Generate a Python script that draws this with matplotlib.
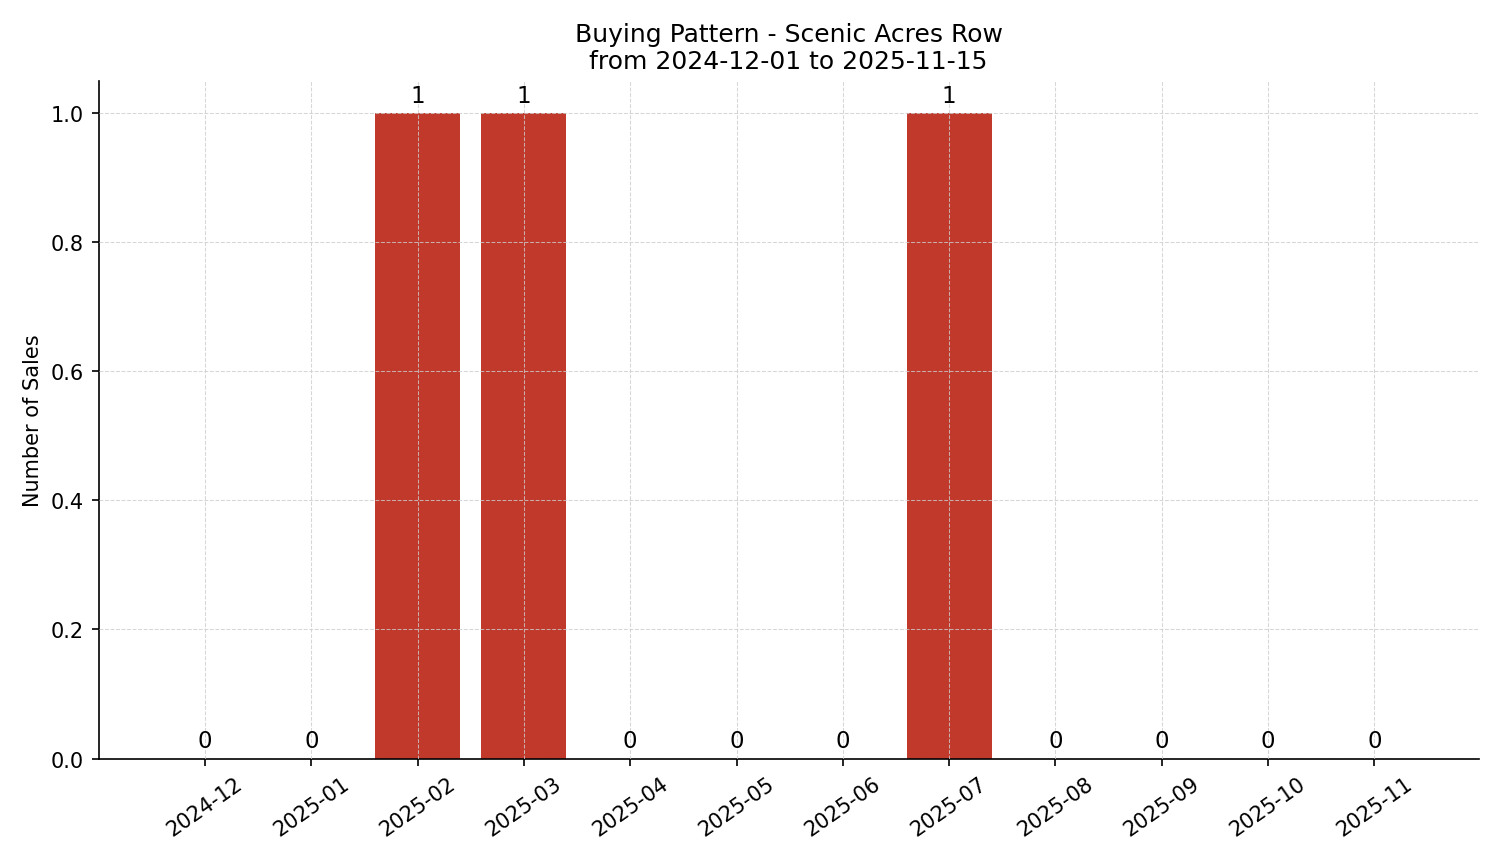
import matplotlib
matplotlib.use("Agg")
import matplotlib.pyplot as plt

months = ["2024-12", "2025-01", "2025-02", "2025-03", "2025-04", "2025-05",
          "2025-06", "2025-07", "2025-08", "2025-09", "2025-10", "2025-11"]
sales = [0, 0, 1, 1, 0, 0, 0, 1, 0, 0, 0, 0]

fig, ax = plt.subplots(figsize=(10.007, 5.753), dpi=150)
x = range(len(months))
bars = ax.bar(x, sales, color="#c0392b", width=0.8)
for xi, v in zip(x, sales):
    ax.text(xi, v + 0.01, str(v), ha="center", va="bottom", fontsize=11)

ax.set_xticks(list(x))
ax.set_xticklabels(months, rotation=35)
ax.set_ylim(0, 1.05)
ax.set_xlim(-1, 11.98)
ax.set_ylabel("Number of Sales")
ax.set_title("Buying Pattern - Scenic Acres Row\nfrom 2024-12-01 to 2025-11-15", fontsize=12)
ax.grid(True, linestyle="--", linewidth=0.5, color="#cccccc", alpha=0.8)
ax.set_axisbelow(False)
ax.spines["top"].set_visible(False)
ax.spines["right"].set_visible(False)

fig.tight_layout()
fig.savefig("out.png", dpi=150)
